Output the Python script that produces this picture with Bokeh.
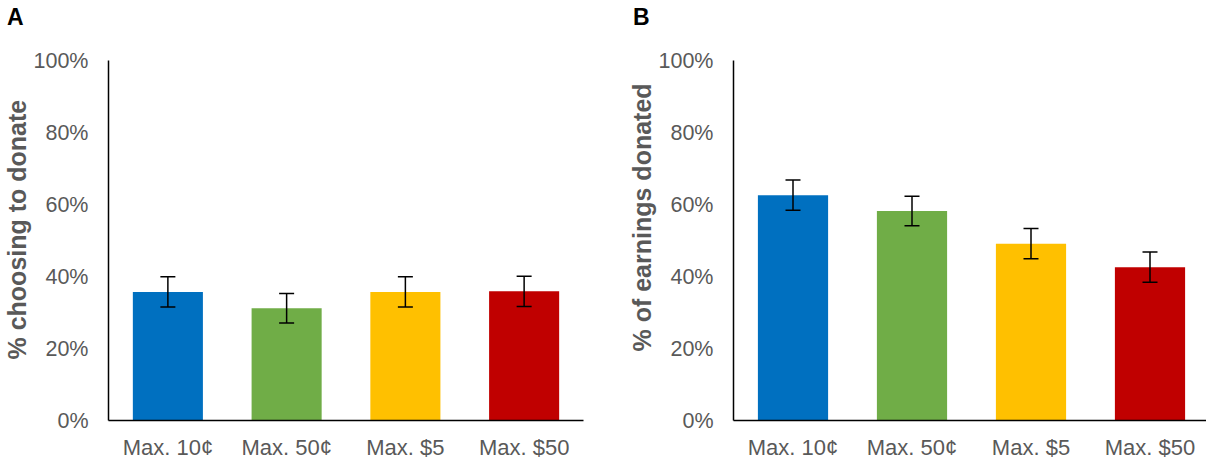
from bokeh.plotting import figure
from bokeh.models import (ColumnDataSource, Range1d, FixedTicker, PrintfTickFormatter,
                          Whisker, TeeHead, Title, Div)
from bokeh.layouts import row, column
from bokeh.embed import file_html
from bokeh.resources import INLINE

# ---- data ----
categories = ["Max. 10\u00a2", "Max. 50\u00a2", "Max. $5", "Max. $50"]
colors = ["#0070C0", "#70AD47", "#FFC000", "#C00000"]
choose_pct = [35.7, 31.2, 35.7, 35.9]
choose_err = [4.2, 4.1, 4.2, 4.2]
donated_pct = [62.6, 58.2, 49.1, 42.6]
donated_err = [4.2, 4.1, 4.2, 4.2]
y_ticks = [0, 20, 40, 60, 80, 100]
panel_letters = ["A", "B"]

FONT = "Liberation Sans"
GRAY = "#595959"


def make_panel(ylabel, means, errs, width, height, mb_left, mb_right, mb_top,
               mb_bottom, x_end, ylabel_offset):
    idx = list(range(len(categories)))
    src = ColumnDataSource(dict(
        x=idx, top=means, color=colors,
        upper=[m + e for m, e in zip(means, errs)],
        lower=[m - e for m, e in zip(means, errs)],
    ))
    p = figure(width=width, height=height, output_backend="svg", toolbar_location=None,
               x_range=Range1d(-0.5, x_end), y_range=Range1d(0, 100),
               min_border_left=mb_left, min_border_right=mb_right,
               min_border_top=mb_top, min_border_bottom=mb_bottom)
    p.outline_line_color = None
    p.xgrid.visible = False
    p.ygrid.visible = False
    p.background_fill_color = "white"
    p.border_fill_color = "white"

    p.vbar(x="x", top="top", width=0.59, bottom=0, color="color", line_color=None, source=src)
    w = Whisker(source=src, base="x", upper="upper", lower="lower",
                line_color="black", line_width=1.5, level="overlay",
                upper_head=TeeHead(size=15, line_color="black", line_width=1.5),
                lower_head=TeeHead(size=15, line_color="black", line_width=1.5))
    p.add_layout(w)

    # y axis
    ya = p.yaxis[0]
    ya.ticker = FixedTicker(ticks=y_ticks)
    ya.formatter = PrintfTickFormatter(format="%d%%")
    ya.major_tick_line_color = None
    ya.minor_tick_line_color = None
    ya.major_tick_out = 0
    ya.major_tick_in = 0
    ya.major_label_standoff = 20
    ya.major_label_text_font = FONT
    ya.major_label_text_font_size = "21.5px"
    ya.major_label_text_color = GRAY
    ya.axis_line_color = "black"
    ya.axis_line_width = 1.5

    # x axis
    xa = p.xaxis[0]
    xa.ticker = FixedTicker(ticks=idx)
    xa.major_label_overrides = {i: c for i, c in zip(idx, categories)}
    xa.major_tick_line_color = None
    xa.minor_tick_line_color = None
    xa.major_tick_out = 0
    xa.major_tick_in = 0
    xa.major_label_standoff = 14
    xa.major_label_text_font = FONT
    xa.major_label_text_font_size = "22px"
    xa.major_label_text_color = GRAY
    xa.axis_line_color = "black"
    xa.axis_line_width = 1.5

    # y axis title (as a left-side title so it can be offset)
    p.add_layout(Title(text=ylabel, align="left", offset=ylabel_offset, standoff=0,
                       text_font=FONT, text_font_size="25px", text_font_style="bold",
                       text_color=GRAY), "left")
    return p


pA = make_panel("% choosing to donate", choose_pct, choose_err,
                width=620, height=432, mb_left=107, mb_right=37, mb_top=30, mb_bottom=42,
                x_end=3.5, ylabel_offset=61)
pB = make_panel("% of earnings donated", donated_pct, donated_err,
                width=586, height=432, mb_left=113, mb_right=0, mb_top=30, mb_bottom=42,
                x_end=-0.5 + 473 / 119, ylabel_offset=69)

letter_style = ("position:absolute;top:6px;font-family:'Liberation Sans';font-weight:bold;"
                "font-size:23px;line-height:1;color:black;")
header = Div(
    text=('<div style="position:relative;width:1206px;height:30px;">'
          f'<span style="{letter_style}left:7px;">{panel_letters[0]}</span>'
          f'<span style="{letter_style}left:633px;">{panel_letters[1]}</span>'
          '</div>'),
    width=1206, height=30, margin=0)

layout = column(header, row(pA, pB), spacing=0)
open("out.html", "w").write(file_html(layout, INLINE))
